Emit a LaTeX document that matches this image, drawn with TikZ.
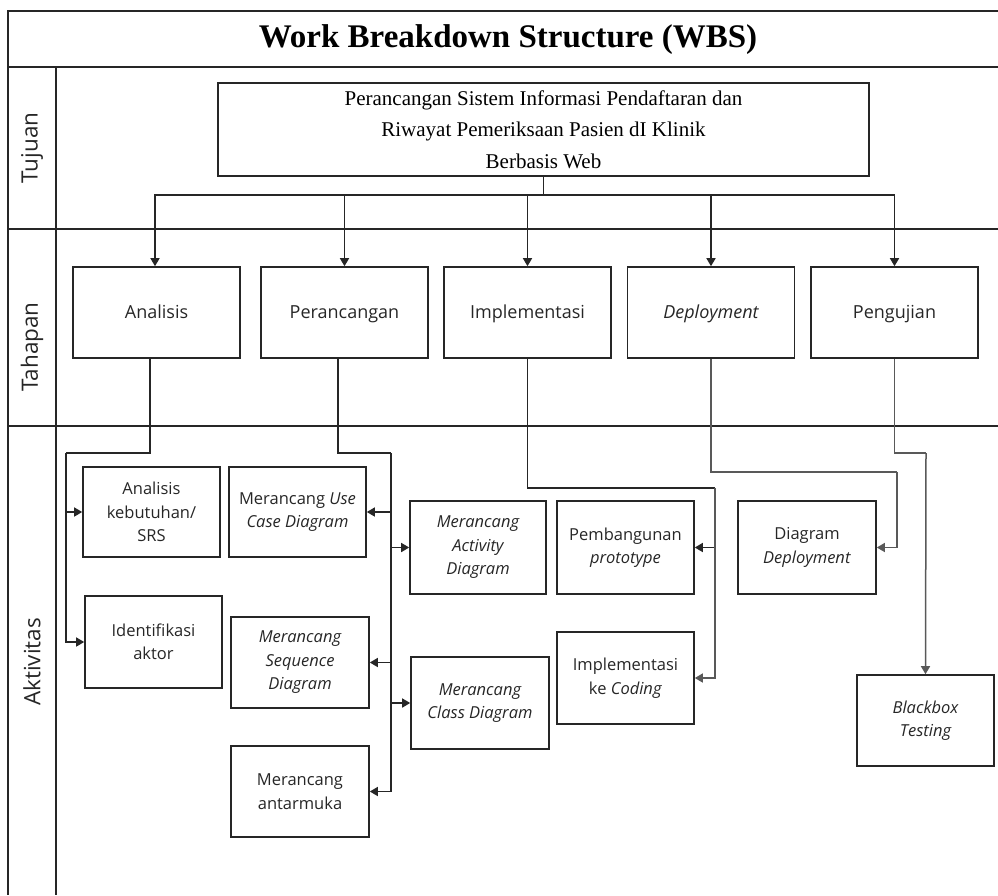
\documentclass[tikz,border=0pt]{standalone}
\usepackage{fontspec}
\setmainfont{Liberation Serif}
\newfontfamily\osans{Open Sans}
\usetikzlibrary{arrows.meta,calc}
\tikzset{
  frame/.style={line width=1.5pt, draw=black!85},
  abox/.style={draw=black!85, line width=1.6pt, align=center, inner sep=0pt,
    text=black!85, font=\osans\fontsize{16.5}{23.5}\selectfont,
    minimum width=137pt, minimum height=91pt},
  tbox/.style={abox, minimum width=167pt, minimum height=91pt,
    text height=14pt, text depth=1.1pt,
    font=\osans\fontsize{18}{24}\selectfont},
  conn/.style={line width=1.5pt, draw=black!85},
  gconn/.style={line width=1.5pt, draw=black!65},
  arr/.style={-{Triangle[length=8pt,width=9pt]}},
  bandlabel/.style={rotate=90, text=black!85, font=\osans\fontsize{22.5}{24}\selectfont}
}
\begin{document}
\begin{tikzpicture}[x=1pt, y=-1pt]
\useasboundingbox (0,0) rectangle (998,895);
% frame
\draw[frame] (998,11) -- (8,11) -- (8,895);
\draw[frame] (8,67) -- (998,67);
\draw[frame] (56,67) -- (56,895);
\draw[frame] (8,229) -- (998,229);
\draw[frame] (8,426) -- (998,426);
% title and band labels
\node[font=\bfseries\fontsize{33}{36}\selectfont] (title) at (508,40) {Work Breakdown Structure (WBS)};
\node[bandlabel] (lt) at (32,148) {Tujuan};
\node[bandlabel] (lh) at (32,347) {Tahapan};
\node[bandlabel] (la) at (32,662) {Aktivitas};
% goal
\node[draw=black!85, line width=1.6pt, minimum width=651pt, minimum height=93pt, inner sep=0pt,
  align=center, font=\fontsize{21}{31.5}\selectfont] (goal) at (543.5,129.5)
  {Perancangan Sistem Informasi Pendaftaran dan\\Riwayat Pemeriksaan Pasien dI Klinik\\Berbasis Web};
% stages
\node[tbox] (ana)  at (156.5,312.5) {Analisis};
\node[tbox] (per)  at (344.5,312.5) {Perancangan};
\node[tbox] (impl) at (527.5,312.5) {Implementasi};
\node[tbox] (dep)  at (711,312.5)   {\itshape Deployment};
\node[tbox] (uji)  at (894.5,312.5) {Pengujian};
% activities
\node[abox, minimum height=90pt] (srs) at (151.5,512) {Analisis\\kebutuhan/\\SRS};
\node[abox, minimum height=90pt] (usecase) at (297.5,512) {Merancang \textit{Use}\\\textit{Case Diagram}};
\node[abox, minimum width=136pt, minimum height=93pt] (activity) at (478,547.5) {\itshape Merancang\\\itshape Activity\\\itshape Diagram};
\node[abox, minimum height=93pt] (proto) at (625.5,547.5) {Pembangunan\\\textit{prototype}};
\node[abox, minimum width=138pt, minimum height=93pt] (ddep) at (807,547.5) {Diagram\\\textit{Deployment}};
\node[abox, minimum height=92pt] (akt) at (153.5,642) {Identifikasi\\aktor};
\node[abox, minimum width=138pt] (seq) at (300,662.5) {\itshape Merancang\\\itshape Sequence\\\itshape Diagram};
\node[abox, minimum width=138pt, minimum height=92pt] (class) at (480,703) {\itshape Merancang\\\itshape Class Diagram};
\node[abox, minimum height=92pt] (coding) at (625.5,678) {Implementasi\\ke \textit{Coding}};
\node[abox, minimum width=138pt] (ui) at (300,791.5) {Merancang\\antarmuka};
\node[abox] (bb) at (925.5,720.5) {\itshape Blackbox\\\itshape Testing};
% goal to stages
\draw[conn] (goal.south) -- ++(0,18) coordinate (gb);
\draw[conn,arr] (gb) -| ([xshift=-1.5pt]ana.north);
\draw[conn,arr] (gb) -| (per.north);
\draw[conn,arr] (gb) -| (impl.north);
\draw[conn,arr] (gb) -| (dep.north);
\draw[conn,arr] (gb) -| (uji.north);
% junctions
\coordinate (ja) at (66,453);
\coordinate (jp) at (391,453);
\coordinate (ji) at (715,488);
\coordinate (jd) at (897,472);
\coordinate (ju) at (926,453);
% analisis
\draw[conn] ([xshift=-6.5pt]ana.south) |- (ja);
\draw[conn,arr] (ja) |- (srs.west);
\draw[conn,arr] (ja) |- (akt.west);
% perancangan
\draw[conn, line width=1.8pt] ([xshift=-6.5pt]per.south) |- (jp);
\draw[conn,arr] (jp) |- (usecase.east);
\draw[conn,arr] (jp) |- (activity.west);
\draw[conn,arr] (jp) |- (seq.east);
\draw[conn,arr] (jp) |- (class.west);
\draw[conn,arr] (jp) |- (ui.east);
% implementasi
\draw[conn] (impl.south) |- (ji);
\draw[conn,arr] (ji) |- (proto.east);
\draw[gconn,arr] (ji) |- (coding.east);
% deployment
\draw[gconn] (dep.south) |- (jd);
\draw[gconn,arr] (jd) |- (ddep.east);
% pengujian
\draw[gconn] (uji.south) |- (ju);
\draw[gconn,arr] (ju) -- (bb.north);
\end{tikzpicture}
\end{document}
